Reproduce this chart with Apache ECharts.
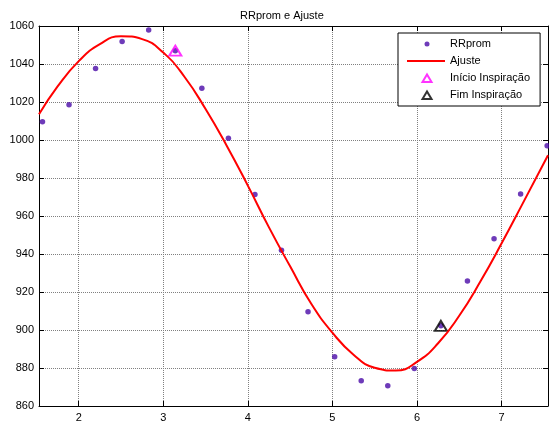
<!DOCTYPE html>
<html>
<head>
<meta charset="utf-8">
<script src="https://cdn.jsdelivr.net/npm/echarts@6/dist/echarts.min.js"></script>
<style>
html,body{margin:0;padding:0;background:#fff;}
#c{width:549px;height:423px;}
</style>
</head>
<body>
<div id="c"></div>
<script>
// ---- data ----
var rrX = [1.571, 1.885, 2.199, 2.513, 2.827, 3.142, 3.456, 3.770, 4.084, 4.398,
           4.712, 5.027, 5.341, 5.655, 5.969, 6.283, 6.597, 6.912, 7.226, 7.540];
var rrY = [1009.6, 1018.5, 1037.6, 1051.8, 1057.9, 1047.0, 1027.2, 1000.9, 971.3, 942.0,
           909.6, 885.9, 873.3, 870.7, 879.8, 902.2, 925.8, 948.0, 971.6, 997.0];
var fitX = [1.53, 1.75, 2.00, 2.25, 2.50, 2.75, 3.00, 3.25, 3.50, 3.75, 4.00, 4.25, 4.50,
            4.75, 5.00, 5.25, 5.50, 5.75, 6.00, 6.25, 6.50, 6.75, 7.00, 7.25, 7.55];
var fitY = [1013.5, 1028.2, 1041.5, 1050.5, 1054.6, 1053.1, 1046.0, 1033.3, 1016.3, 997.0,
            976.0, 954.0, 933.5, 913.8, 898.6, 887.0, 880.1, 878.7, 883.2, 893.0, 907.5,
            925.5, 945.5, 966.5, 992.0];
var startPt = [3.142, 1047.0];
var endPt = [6.283, 902.2];
var xTicks = [2, 3, 4, 5, 6, 7];
var xMin = 1.53, xMax = 7.55;
var yMin = 860, yMax = 1060, yStep = 20;
var names = ['RRprom', 'Ajuste', 'Início Inspiração', 'Fim Inspiração'];
var titleText = 'RRprom e Ajuste';

function zip(a, b) { return a.map(function (v, i) { return [v, b[i]]; }); }

var FONT = 'Arial, "Liberation Sans", sans-serif';
var gridLine = { show: true, lineStyle: { color: '#808080', type: [1, 1], width: 1 } };
var tickIn = { show: true, inside: true, length: 5, lineStyle: { color: '#000', width: 1 } };
var axLine = { show: true, lineStyle: { color: '#000', width: 1 } };

var chart = echarts.init(document.getElementById('c'), null, { renderer: 'canvas' });
chart.setOption({
  animation: false,
  backgroundColor: '#fff',
  title: {
    text: titleText, left: 235, top: 5,
    textStyle: { fontFamily: FONT, fontSize: 11, fontWeight: 'normal', color: '#000' }
  },
  grid: { left: 39, right: 1, top: 26, bottom: 16, containLabel: false },
  legend: {
    orient: 'vertical', left: 398, top: 33,
    backgroundColor: '#fff', borderColor: '#000', borderWidth: 1,
    padding: [5, 10, 5, 8], itemGap: 5, itemWidth: 38, itemHeight: 10,
    textStyle: { fontFamily: FONT, fontSize: 11, color: '#000', lineHeight: 12 },
    data: [
      { name: names[0], icon: 'path://M0,0 M38,10 M20,2.5 A2.5,2.5 0 1 1 20,7.5 A2.5,2.5 0 1 1 20,2.5 Z' },
      { name: names[1], icon: 'path://M0,0 M38,10 M0,4 L38,4 L38,6 L0,6 Z' },
      { name: names[2], icon: 'path://M0,0 M38,10 M15.5,9 L20,1.5 L24.5,9 Z' },
      { name: names[3], icon: 'path://M0,0 M38,10 M15.5,9 L20,1.5 L24.5,9 Z' }
    ]
  },
  xAxis: [{
    type: 'value', min: xMin, max: xMax, position: 'bottom',
    axisLine: axLine,
    axisTick: Object.assign({ customValues: xTicks }, tickIn),
    axisLabel: { customValues: xTicks, fontFamily: FONT, fontSize: 11, color: '#000', margin: 6 },
    splitLine: Object.assign({ customValues: xTicks }, gridLine)
  }, {
    type: 'value', min: xMin, max: xMax, position: 'top',
    axisLine: axLine,
    axisTick: Object.assign({ customValues: xTicks }, tickIn),
    axisLabel: { show: false },
    splitLine: { show: false }
  }],
  yAxis: [{
    type: 'value', min: yMin, max: yMax, interval: yStep, position: 'left',
    axisLine: axLine, axisTick: tickIn,
    axisLabel: { fontFamily: FONT, fontSize: 11, color: '#000', margin: 5,
                 formatter: function (v) { return String(v); } },
    splitLine: gridLine
  }, {
    type: 'value', min: yMin, max: yMax, interval: yStep, position: 'right',
    axisLine: axLine, axisTick: tickIn,
    axisLabel: { show: false }, splitLine: { show: false }
  }],
  series: [{
    name: names[0], type: 'scatter', data: zip(rrX, rrY),
    symbol: 'circle', symbolSize: 5.5,
    itemStyle: { color: '#4a0aa8' }
  }, {
    name: names[1], type: 'line', data: zip(fitX, fitY),
    smooth: true, showSymbol: false, symbol: 'none',
    lineStyle: { color: '#ff0000', width: 2 },
    itemStyle: { color: '#ff0000' }
  }, {
    name: names[2], type: 'scatter', data: [startPt],
    symbol: 'triangle', symbolSize: [12, 10],
    itemStyle: { color: 'rgba(0,0,0,0)', borderColor: '#ff00ff', borderWidth: 2 }
  }, {
    name: names[3], type: 'scatter', data: [endPt],
    symbol: 'triangle', symbolSize: [12, 10],
    itemStyle: { color: 'rgba(0,0,0,0)', borderColor: '#000000', borderWidth: 2 }
  }]
});
</script>
</body>
</html>
